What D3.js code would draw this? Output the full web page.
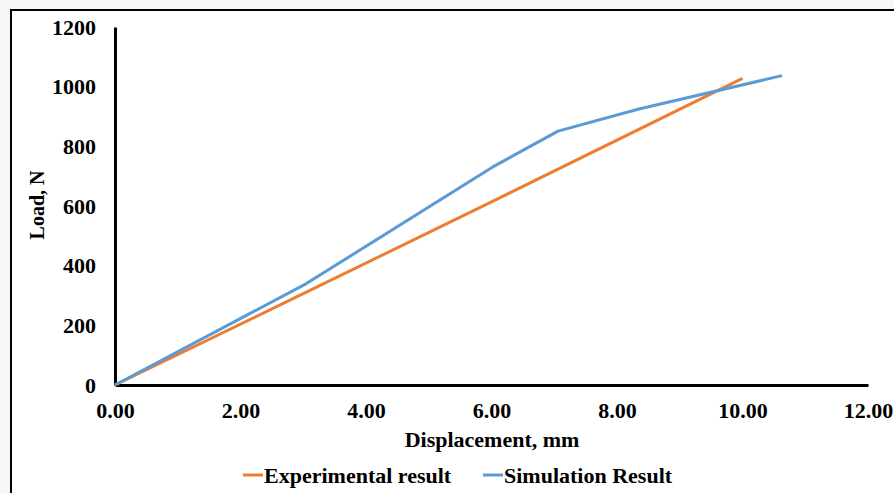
<!DOCTYPE html>
<html>
<head>
<meta charset="utf-8">
<script src="https://cdn.jsdelivr.net/npm/d3@7"></script>
<style>
  body { margin: 0; background: #f6f6f6; }
  svg { display: block; }
  text { font-family: "Liberation Serif", "Times New Roman", serif; font-weight: bold; fill: #000; }
</style>
</head>
<body>
<svg id="chart"></svg>
<script>
// data
const expDisp = [0, 3.0, 6.0, 10.0];
const expLoad = [0, 306, 614, 1028];
const simDisp = [0, 3.05, 6.02, 7.06, 8.35, 10.63];
const simLoad = [0, 340, 731, 851, 925, 1037];
const xTicks = [0, 2, 4, 6, 8, 10, 12];
const yTicks = [0, 200, 400, 600, 800, 1000, 1200];
const seriesNames = ['Experimental result', 'Simulation Result'];
const seriesColors = ['#ED7D31', '#5B9BD5'];

const width = 894, height = 493;
const margin = { top: 27, right: 25, bottom: 108, left: 115 };

const svg = d3.select('#chart')
  .attr('width', width)
  .attr('height', height);

// chart area frame
svg.append('rect')
  .attr('x', 11)
  .attr('y', 10)
  .attr('width', width)
  .attr('height', height)
  .attr('fill', '#fff')
  .attr('stroke', '#000')
  .attr('stroke-width', 2);

const xScale = d3.scaleLinear()
  .domain([0, 12])
  .range([margin.left, width - margin.right - 1]);

const yScale = d3.scaleLinear()
  .domain([0, 1200])
  .range([height - margin.bottom, margin.top]);

const series = [
  expDisp.map((d, i) => ({ x: d, y: expLoad[i] })),
  simDisp.map((d, i) => ({ x: d, y: simLoad[i] }))
];

const line = d3.line()
  .x(d => xScale(d.x))
  .y(d => yScale(d.y));

// axes
const xAxis = d3.axisBottom(xScale)
  .tickValues(xTicks)
  .tickFormat(d3.format('.2f'))
  .tickSize(0)
  .tickSizeOuter(0)
  .tickPadding(17);

const yAxis = d3.axisLeft(yScale)
  .tickValues(yTicks)
  .tickFormat(d3.format('d'))
  .tickSize(0)
  .tickSizeOuter(0)
  .tickPadding(19);

const xAxisG = svg.append('g')
  .attr('transform', `translate(0,${yScale(0)})`)
  .call(xAxis);

const yAxisG = svg.append('g')
  .attr('transform', `translate(${xScale(0)},0)`)
  .call(yAxis);

[xAxisG, yAxisG].forEach(g => {
  g.select('.domain').attr('stroke', '#000').attr('stroke-width', 3);
  g.selectAll('text')
    .attr('font-family', '"Liberation Serif", serif')
    .attr('font-weight', 'bold')
    .attr('font-size', 22)
    .attr('fill', '#000');
});

// lines
svg.selectAll('.series')
  .data(series)
  .join('path')
  .attr('class', 'series')
  .attr('fill', 'none')
  .attr('stroke', (d, i) => seriesColors[i])
  .attr('stroke-width', 3)
  .attr('stroke-linejoin', 'round')
  .attr('d', line);

// axis labels
svg.append('text')
  .attr('x', 492)
  .attr('y', 439)
  .attr('dy', '0.35em')
  .attr('text-anchor', 'middle')
  .attr('font-size', 22)
  .text('Displacement, mm');

svg.append('text')
  .attr('transform', `translate(37,205) rotate(-90)`)
  .attr('dy', '0.35em')
  .attr('text-anchor', 'middle')
  .attr('font-size', 20)
  .text('Load, N');

// legend
const legendX = [243, 483];
const legend = svg.selectAll('.legend')
  .data(seriesNames)
  .join('g')
  .attr('class', 'legend')
  .attr('transform', (d, i) => `translate(${legendX[i]},475)`);

legend.append('line')
  .attr('x1', 0)
  .attr('x2', 20)
  .attr('stroke', (d, i) => seriesColors[i])
  .attr('stroke-width', 3);

legend.append('text')
  .attr('x', 21)
  .attr('dy', '0.35em')
  .attr('font-size', 22)
  .text(d => d);
</script>
</body>
</html>
